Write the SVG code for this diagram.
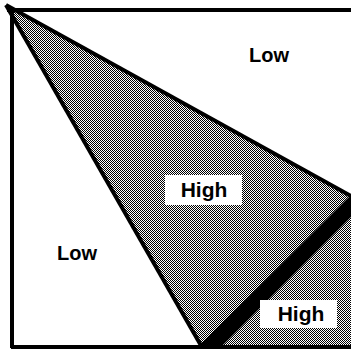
<svg xmlns="http://www.w3.org/2000/svg" width="351" height="349" viewBox="0 0 351 349">
<style>
.lbl{font-family:"Liberation Sans",Arial,sans-serif;font-weight:bold;font-size:20px;fill:#000;text-anchor:middle}
.hi{font-size:21px}
.edge{stroke:#000;stroke-width:4;fill:none;stroke-linecap:butt}
.box{fill:#fff}
</style>
<defs>
<pattern id="dots" width="2" height="2" patternUnits="userSpaceOnUse">
<rect width="2" height="2" fill="#fff"/>
<rect x="0" y="0" width="1" height="1" fill="#000"/>
<rect x="1" y="1" width="1" height="1" fill="#000"/>
</pattern>
</defs>
<rect width="351" height="349" fill="#fff"/>
<g id="region-high">
<polygon points="8,6 351,196 351,349 203,349" fill="url(#dots)"/>
</g>
<g id="connectors">
<line class="edge" x1="7" y1="10" x2="351" y2="10" stroke-width="3"/>
<line class="edge" x1="12" y1="9" x2="12" y2="348" stroke-width="3"/>
<line class="edge" x1="11" y1="347" x2="351" y2="347" stroke-width="2"/>
<line class="edge" x1="6" y1="5" x2="351" y2="196"/>
<line class="edge" x1="6" y1="5" x2="203" y2="349"/>
<polygon points="196,349 219,349 351,217 351,195" fill="#000"/>
</g>
<g id="label-low-top"><text class="lbl" x="269" y="62">Low</text></g>
<g id="label-low-left"><text class="lbl" x="77" y="260">Low</text></g>
<g id="label-high-1">
<rect class="box" x="165" y="175" width="77" height="30"/>
<text class="lbl hi" x="204" y="197">High</text>
</g>
<g id="label-high-2">
<rect class="box" x="260" y="300" width="77" height="28"/>
<text class="lbl hi" x="301" y="321">High</text>
</g>
</svg>
